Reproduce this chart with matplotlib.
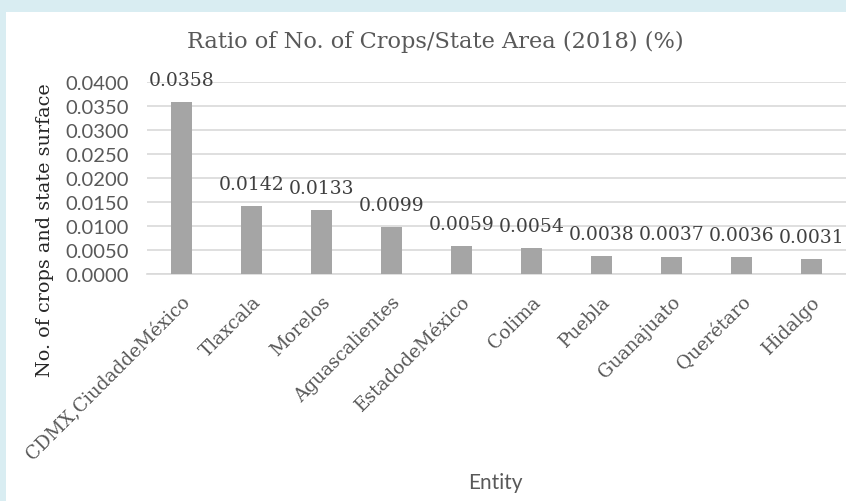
import matplotlib
matplotlib.use("Agg")
import matplotlib.pyplot as plt
from matplotlib.patches import Rectangle

entities = ["CDMX,CiudaddeMéxico", "Tlaxcala", "Morelos", "Aguascalientes",
            "EstadodeMéxico", "Colima", "Puebla", "Guanajuato", "Querétaro", "Hidalgo"]
ratios = [0.0358, 0.0142, 0.0133, 0.0099, 0.0059, 0.0054, 0.0038, 0.0037, 0.0036, 0.0031]
yticks = [0.0, 0.005, 0.010, 0.015, 0.020, 0.025, 0.030, 0.035, 0.040]

W, H = 846, 502
fig = plt.figure(figsize=(W / 100, H / 100), dpi=100)
fig.patch.set_facecolor("#d9edf2")
fig.patches.append(Rectangle((6 / W, 0), 1, 1 - 13 / H, transform=fig.transFigure,
                             facecolor="white", edgecolor="none", zorder=-10))

ax = fig.add_axes([146.5 / W, (H - 275.3) / H, 700 / W, 192 / H])
ax.set_facecolor("none")
x = list(range(len(entities)))
bars = ax.bar(x, ratios, width=0.31, color="#a5a5a5", zorder=3)
ax.set_xlim(-0.5, len(entities) - 0.5)
ax.set_ylim(0, 0.04)
ax.set_yticks(yticks)
ax.set_yticklabels([f"{v:.4f}" for v in yticks], fontfamily="Lato", fontsize=14.5, color="#595959")
ax.grid(axis="y", color="#d9d9d9", linewidth=1.2, zorder=0)
for s in ["top", "right", "left"]:
    ax.spines[s].set_visible(False)
ax.spines["bottom"].set_color("#d9d9d9")
ax.spines["bottom"].set_linewidth(1.2)
ax.tick_params(axis="both", length=0)
ax.tick_params(axis="y", pad=13)

ax.set_xticks(x)
ax.set_xticklabels(entities, rotation=45, ha="right", va="top", rotation_mode="anchor",
                   fontfamily="DejaVu Serif", fontsize=13.3, color="#595959")
ax.tick_params(axis="x", pad=13)

for xi, v in zip(x, ratios):
    ax.annotate(f"{v:.4f}", (xi, v), xytext=(0, 9.5), textcoords="offset points",
                ha="center", va="bottom", fontfamily="DejaVu Serif", fontsize=13.5,
                color="#404040")

fig.text(435 / W, 1 - 42 / H, "Ratio of No. of Crops/State Area (2018) (%)",
         ha="center", va="center", fontfamily="DejaVu Serif", fontsize=16.2, color="#595959")
fig.text(45 / W, 1 - 230 / H, "No. of crops and state surface", rotation=90,
         ha="center", va="center", fontfamily="DejaVu Serif", fontsize=13.8, color="#262626")
fig.text(495 / W, 1 - 483 / H, "Entity", ha="center", va="center",
         fontfamily="Lato", fontsize=15, color="#595959")

fig.savefig("out.png", dpi=100, facecolor=fig.get_facecolor())
